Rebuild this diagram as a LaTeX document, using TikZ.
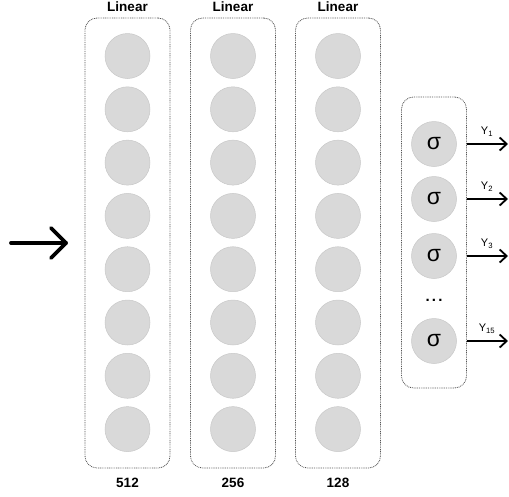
\documentclass[tikz,border=0pt]{standalone}
\usepackage{fontspec}
\setmainfont{Liberation Sans}
\usetikzlibrary{arrows.meta,calc}
\definecolor{neuronfill}{HTML}{D9D9D9}
\definecolor{neuronline}{HTML}{C8C8C8}
\definecolor{boxline}{HTML}{555555}
\begin{document}
\begin{tikzpicture}[x=1pt,y=-1pt,
  layerbox/.style={draw=boxline, line width=0.8pt, dash pattern=on 0.9pt off 0.9pt, rounded corners=12pt, minimum width=85pt, minimum height=450pt, inner sep=0pt},
  sigbox/.style={draw=boxline, line width=0.8pt, dash pattern=on 0.9pt off 0.9pt, rounded corners=12pt, minimum width=65pt, minimum height=291pt, inner sep=0pt},
  neuron/.style={circle, fill=neuronfill, draw=neuronline, line width=0.5pt, minimum size=45pt, inner sep=0pt},
  toplabel/.style={font=\fontsize{13.5pt}{15pt}\selectfont\bfseries},
  sigtext/.style={font=\fontsize{23pt}{25pt}\selectfont},
  ylabel/.style={font=\fontsize{11pt}{12pt}\selectfont},
  outarrow/.style={line width=1.8pt, -{Straight Barb[length=7pt, width=13pt, line width=1.8pt]}},
]
\useasboundingbox (0,0) rectangle (509,496);

% layer boxes
\node[layerbox] (box1) at (127.5,243) {};
\node[layerbox] (box2) at (233,243) {};
\node[layerbox] (box3) at (338,243) {};

% labels
\node[toplabel] (lab1) at (127.5,6.5) {Linear};
\node[toplabel] (lab2) at (233,6.5) {Linear};
\node[toplabel] (lab3) at (338,6.5) {Linear};
\node[toplabel] (num1) at (127.5,483) {512};
\node[toplabel] (num2) at (233,483) {256};
\node[toplabel] (num3) at (338,483) {128};

% neurons
\foreach \c/\x in {1/127.5, 2/233, 3/338}{
  \foreach \k in {0,...,7}{
    \node[neuron] (n\c-\k) at (\x, 56+53.3*\k) {};
  }
}

% sigmoid box
\node[sigbox] (sbox) at (434,242.5) {};
\node[neuron, sigtext] (s1) at (434,144) {σ};
\node[neuron, sigtext] (s2) at (434,199) {σ};
\node[neuron, sigtext] (s3) at (434,256) {σ};
\node[font=\fontsize{15pt}{16pt}\selectfont\bfseries, inner sep=0pt] (dots) at (434,300) {.\hspace{2.2pt}.\hspace{2.2pt}.};
\node[neuron, sigtext] (s4) at (434,341) {σ};

% output arrows
\coordinate (o1) at (508,144);
\coordinate (o2) at (508,199);
\coordinate (o3) at (508,256);
\coordinate (o4) at (508,341);
\draw[outarrow] (sbox.east |- s1) -- (o1);
\draw[outarrow] (sbox.east |- s2) -- (o2);
\draw[outarrow] (sbox.east |- s3) -- (o3);
\draw[outarrow] (sbox.east |- s4) -- (o4);
\node[ylabel] (y1) at (487,132) {Y\textsubscript{1}};
\node[ylabel] (y2) at (487,187) {Y\textsubscript{2}};
\node[ylabel] (y3) at (487,244) {Y\textsubscript{3}};
\node[ylabel] (y4) at (487,329) {Y\textsubscript{15}};

% input arrow
\coordinate (inA) at (11,243);
\coordinate (inB) at (66,243);
\draw[line width=3.8pt, line cap=round] (inA) -- (inB);
\draw[line width=3.8pt, line cap=round, line join=round] ($(inB)+(-15,-15)$) -- (inB) -- ($(inB)+(-15,15)$);
\end{tikzpicture}
\end{document}
